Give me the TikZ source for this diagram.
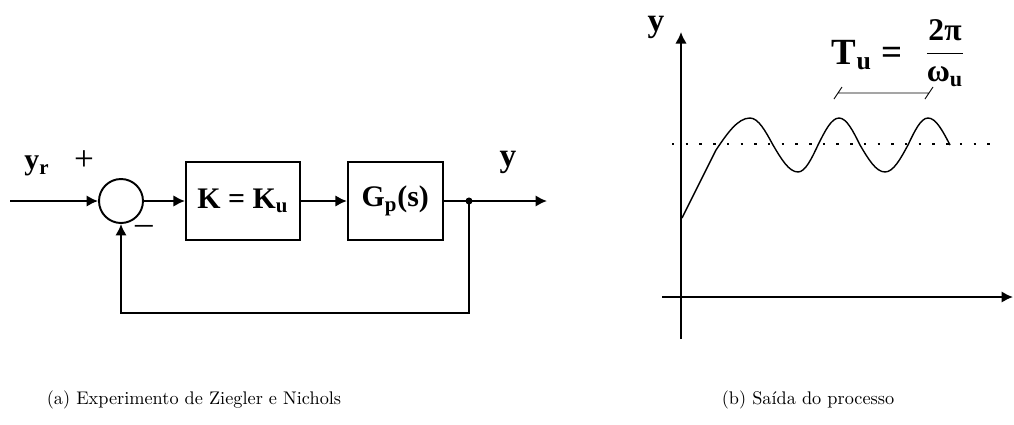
\documentclass[tikz,border=0pt]{standalone}
\usepackage{fontspec}
\newfontfamily\lblfont{Liberation Serif}
\usetikzlibrary{arrows.meta,positioning,calc}

\begin{document}
\begin{tikzpicture}[x=0.02cm, y=-0.02cm, line width=1.1pt,
  blk/.style={draw, minimum height=1.56cm, inner sep=2pt,
              font=\lblfont\bfseries\fontsize{17}{19}\selectfont},
  sumnode/.style={draw, circle, minimum size=0.88cm, inner sep=0pt},
  lbl/.style={font=\lblfont\bfseries\fontsize{17}{19}\selectfont, inner sep=1pt},
  sig/.style={-{Latex[length=2.3mm,width=2.3mm]}},
  captxt/.style={font=\fontsize{10.4}{12}\selectfont}]
  \useasboundingbox (0,0) rectangle (1014,424);
  % (a) loop
  \node[sumnode] (sum) at (121,201) {};
  \node[blk, minimum width=2.28cm, right=0.82cm of sum] (k) {K = K\textsubscript{u}};
  \node[blk, minimum width=1.9cm, right=0.92cm of k] (gp) {G\textsubscript{p}(s)};
  \coordinate (in) at (10,201);
  \coordinate (out) at (547,201);
  \coordinate (tap) at (469,201);
  \coordinate (fb) at (469,313);
  \node[lbl] (yr) at (37,166) {y\textsubscript{r}};
  \node[lbl, font=\lblfont\fontsize{20}{22}\selectfont] (plus) at (84,161) {+};
  \node[lbl, font=\lblfont\fontsize{20}{22}\selectfont] (minus) at (144,230) {–};
  \node[lbl, font=\lblfont\bfseries\fontsize{19}{21}\selectfont] (yout) at (508,162) {y};
  \draw[sig] (in) -- (sum);
  \draw[sig] (sum) -- (k);
  \draw[sig] (k) -- (gp);
  \draw[sig] (gp) -- (out);
  \fill (tap) circle (2pt);
  \draw[sig] (tap) -- (fb) -| (sum.south);
  % (b) response
  \coordinate (ybot) at (681,339);
  \coordinate (ytop) at (681,32);
  \coordinate (xl) at (662,297);
  \coordinate (xr) at (1013,297);
  \draw[sig] (ybot) -- (ytop);
  \draw[sig] (xl) -- (xr);
  \node[lbl, font=\lblfont\bfseries\fontsize{19}{21}\selectfont] (ylab) at (656,27) {y};
  \draw[line width=1.4pt, dash pattern=on 1.4pt off 6.4pt] (672,144) -- (992,144);
  \draw[line width=0.8pt] (682,218) -- (716,150) sin (750,118) cos (773,145) sin (798,172)
    cos (818,145) sin (839,118) cos (860,145) sin (885,172) cos (908,145) sin (928,118) cos (950,145);
  \node[lbl, font=\lblfont\bfseries\fontsize{21}{23}\selectfont] (tu) at (867,55) {T\textsubscript{u} =};
  \node[lbl, font=\lblfont\bfseries\fontsize{18}{20}\selectfont] (frac) at (945,53)
    {$\displaystyle\frac{\mbox{2π}}{\mbox{ω\textsubscript{u}}}$};
  \draw[line width=0.5pt] (834,99) -- (842,87) (838,93) -- (929,93) (925,99) -- (933,87);
  % captions
  \node[captxt] (capa) at (194,400) {(a) Experimento de Ziegler e Nichols};
  \node[captxt] (capb) at (808,400) {(b) Saída do processo};
\end{tikzpicture}
\end{document}
